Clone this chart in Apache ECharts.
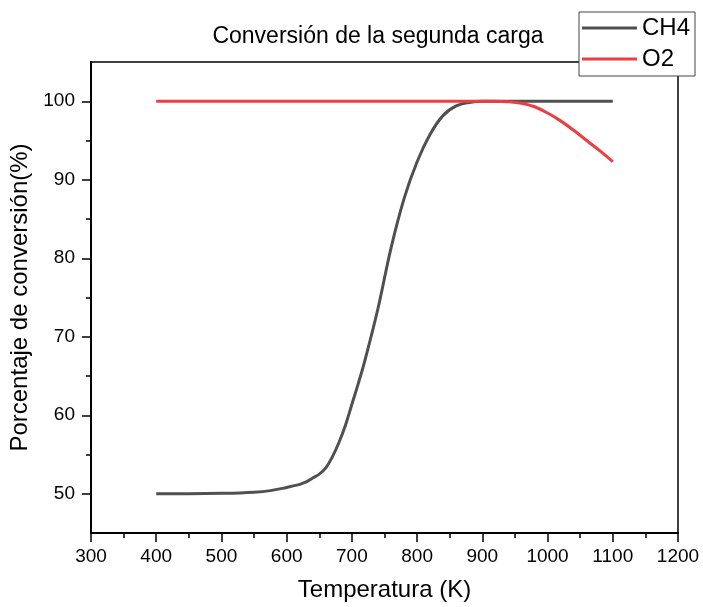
<!DOCTYPE html>
<html>
<head>
<meta charset="utf-8">
<script src="https://cdn.jsdelivr.net/npm/echarts@6/dist/echarts.min.js"></script>
<style>
  html, body { margin: 0; padding: 0; background: #fff; }
  #chart { width: 703px; height: 607px; }
</style>
</head>
<body>
<div id="chart"></div>
<script>
// temperatures (K)
const temps = [400, 450, 500, 550, 575, 600, 610, 620, 630, 640, 650, 660, 670, 680, 690, 700, 710, 720, 740, 760, 780, 800, 820, 840, 860, 880, 900,
  920, 940, 960, 980, 1000, 1020, 1040, 1060, 1080, 1100];
const ch4 = [50.0, 50.0, 50.05, 50.2, 50.4, 50.8, 51.0, 51.2, 51.5, 52.0, 52.5, 53.3, 54.7, 56.5, 58.7, 61.4, 64.1, 67.0, 73.6, 81.3, 87.6, 92.3, 95.8, 98.2, 99.4, 99.85, 100,
  100, 100, 100, 100, 100, 100, 100, 100, 100, 100];
const o2 = [100, 100, 100, 100, 100, 100, 100, 100, 100, 100, 100, 100, 100, 100, 100, 100, 100, 100, 100, 100, 100, 100, 100, 100, 100, 100, 100,
  100, 99.95, 99.75, 99.3, 98.5, 97.5, 96.3, 95.0, 93.7, 92.3];
const yLabels = [50, 60, 70, 80, 90, 100];
const yMinor = [55, 65, 75, 85, 95];

const font = 'Liberation Sans, Arial, sans-serif';
const chart = echarts.init(document.getElementById('chart'));

const toPairs = (ys) => temps.map((t, i) => [t, ys[i]]);

const option = {
  animation: false,
  textStyle: { fontFamily: font, color: '#000' },
  title: {
    text: 'Conversión de la segunda carga',
    left: 373,
    textAlign: 'center',
    top: 20,
    textStyle: { fontFamily: font, fontSize: 23, fontWeight: 'normal', color: '#000' }
  },
  legend: {
    left: 579,
    top: 12,
    orient: 'vertical',
    z: 10,
    backgroundColor: '#fff',
    borderColor: '#444',
    borderWidth: 1,
    padding: [4, 5, 5, 3],
    itemGap: 7,
    itemWidth: 55,
    itemHeight: 3,
    icon: 'rect',
    textStyle: { fontFamily: font, fontSize: 24, color: '#000' },
    data: ['CH4', 'O2']
  },
  grid: {
    left: 91, right: 25, top: 62, bottom: 74,
    show: true, borderColor: '#000', borderWidth: 1.5, backgroundColor: 'transparent'
  },
  xAxis: {
    type: 'value',
    min: 300, max: 1200, interval: 100,
    name: 'Temperatura (K)',
    nameLocation: 'middle',
    nameGap: 45,
    nameTextStyle: { fontFamily: font, fontSize: 24, color: '#000' },
    axisLine: { show: true, lineStyle: { color: '#000', width: 2 } },
    axisTick: { show: true, length: 9, lineStyle: { color: '#000', width: 1.5 } },
    minorTick: { show: true, splitNumber: 2, length: 5, lineStyle: { color: '#000', width: 1.5 } },
    axisLabel: { fontFamily: font, fontSize: 19, color: '#000', margin: 14, formatter: (v) => String(v) },
    splitLine: { show: false }
  },
  yAxis: [{
    type: 'value',
    min: 45, max: 105,
    name: 'Porcentaje de conversión(%)',
    nameLocation: 'middle',
    nameGap: 57,
    nameTextStyle: { fontFamily: font, fontSize: 24, color: '#000' },
    axisLine: { show: true, lineStyle: { color: '#000', width: 2 } },
    axisTick: { show: true, length: 9, customValues: yLabels, lineStyle: { color: '#000', width: 1.5 } },
    axisLabel: { fontFamily: font, fontSize: 19, color: '#000', margin: 16, customValues: yLabels },
    splitLine: { show: false }
  }, {
    type: 'value',
    position: 'left',
    min: 45, max: 105,
    axisLine: { show: false },
    axisTick: { show: true, length: 5, customValues: yMinor, lineStyle: { color: '#000', width: 1.5 } },
    axisLabel: { show: false, customValues: yMinor },
    splitLine: { show: false }
  }],
  series: [{
    name: 'CH4',
    type: 'line',
    data: toPairs(ch4),
    smooth: 0.4,
    showSymbol: false,
    lineStyle: { color: '#505050', width: 3 },
    itemStyle: { color: '#505050' }
  }, {
    name: 'O2',
    type: 'line',
    data: toPairs(o2),
    smooth: 0.4,
    showSymbol: false,
    lineStyle: { color: '#f03c40', width: 3 },
    itemStyle: { color: '#f03c40' }
  }]
};

chart.setOption(option);
</script>
</body>
</html>
